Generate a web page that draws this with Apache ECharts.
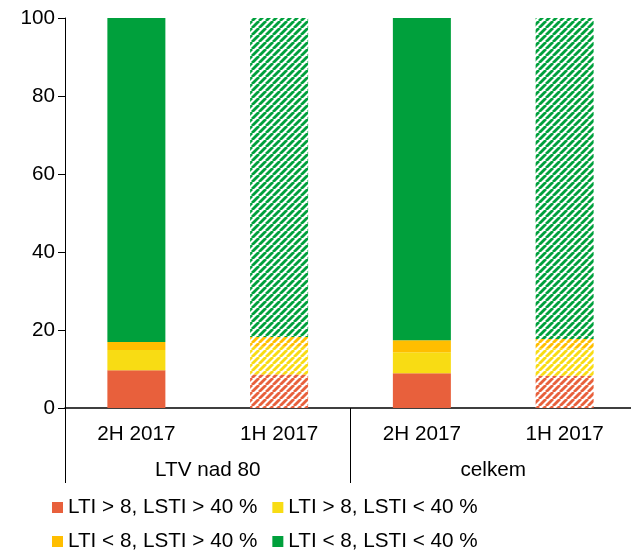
<!DOCTYPE html>
<html>
<head>
<meta charset="utf-8">
<script src="https://cdn.jsdelivr.net/npm/echarts@6/dist/echarts.min.js"></script>
<style>
html,body{margin:0;padding:0;background:#fff;overflow:hidden;}
#chart{width:636px;height:551px;}
</style>
</head>
<body>
<div id="chart"></div>
<script>
// kategorie a skupiny
var categories = ['2H 2017', '1H 2017', '2H 2017', '1H 2017'];
var groups = ['LTV nad 80', 'celkem'];
var yTicks = [0, 20, 40, 60, 80, 100];
// podily (%)
var seriesNames = ['LTI > 8, LSTI > 40 %', 'LTI > 8, LSTI < 40 %', 'LTI < 8, LSTI > 40 %', 'LTI < 8, LSTI < 40 %'];
var redVals = [9.7, 8.6, 8.9, 8.3];
var yellowVals = [5.2, 7.1, 5.4, 7.0];
var orangeVals = [2.0, 2.5, 3.1, 2.4];
var greenVals = [83.1, 81.8, 82.6, 82.3];
// 1H 2017 je srafovane
var hatched = [false, true, false, true];

var colors = ['#E8603C', '#F8DC14', '#FFBE00', '#00A03C'];
var font = 'Liberation Sans, Arial, sans-serif';
var fs = 20.7;

//srafovani - diagonalni pruhy
function makeHatch(color) {
	var p = 7;
	var c = document.createElement('canvas');
	c.width = p;
	c.height = p;
	var ctx = c.getContext('2d');
	ctx.fillStyle = '#fff';
	ctx.fillRect(0, 0, p, p);
	ctx.strokeStyle = color;
	ctx.lineWidth = 2.8;
	for (var k = -1; k <= 1; k++) {
		ctx.beginPath();
		ctx.moveTo(k * p, p);
		ctx.lineTo(k * p + p, 0);
		ctx.stroke();
	}
	return {image: c, repeat: 'repeat'};
}

function buildData(vals, color) {
	var pattern = makeHatch(color);
	var out = [];
	for (var i = 0; i < vals.length; i++) {
		if (hatched[i]) {
			out.push({value: vals[i], itemStyle: {color: pattern}});
		} else {
			out.push({value: vals[i]});
		}
	}
	return out;
}

var allVals = [redVals, yellowVals, orangeVals, greenVals];
var series = [];
for (var s = 0; s < allVals.length; s++) {
	series.push({
		name: seriesNames[s],
		type: 'bar',
		stack: 'total',
		barWidth: 58,
		xAxisIndex: 0,
		itemStyle: {color: colors[s]},
		data: buildData(allVals[s], colors[s])
	});
}

var chart = echarts.init(document.getElementById('chart'));
var option = {
	animation: false,
	grid: {left: 65, top: 18, right: 0, bottom: 143},
	legend: [
		{
			data: [seriesNames[0], seriesNames[1]],
			left: 52, top: 497, padding: 0,
			itemWidth: 11, itemHeight: 11, itemGap: 15,
			icon: 'rect',
			textStyle: {fontSize: fs, color: '#000', fontFamily: font}
		},
		{
			data: [seriesNames[2], seriesNames[3]],
			left: 52, top: 531, padding: 0,
			itemWidth: 11, itemHeight: 11, itemGap: 15,
			icon: 'rect',
			textStyle: {fontSize: fs, color: '#000', fontFamily: font}
		}
	],
	xAxis: [
		{
			type: 'category',
			data: categories,
			position: 'bottom',
			axisLine: {lineStyle: {color: '#000', width: 1.5}},
			axisTick: {show: false},
			axisLabel: {fontSize: fs, color: '#000', fontFamily: font, margin: 16}
		},
		{
			type: 'category',
			data: groups,
			position: 'bottom',
			axisLine: {show: false},
			axisTick: {show: true, length: 75, lineStyle: {color: '#000', width: 1}},
			axisLabel: {fontSize: fs, color: '#000', fontFamily: font, margin: 52},
			splitLine: {show: false}
		}
	],
	yAxis: {
		type: 'value',
		min: yTicks[0],
		max: yTicks[yTicks.length - 1],
		interval: yTicks[1] - yTicks[0],
		axisLine: {show: true, lineStyle: {color: '#000', width: 1}},
		axisTick: {show: true, length: 7, lineStyle: {color: '#000'}},
		axisLabel: {fontSize: fs, color: '#000', fontFamily: font, margin: 10},
		splitLine: {show: false}
	},
	series: series
};
chart.setOption(option);
</script>
</body>
</html>
